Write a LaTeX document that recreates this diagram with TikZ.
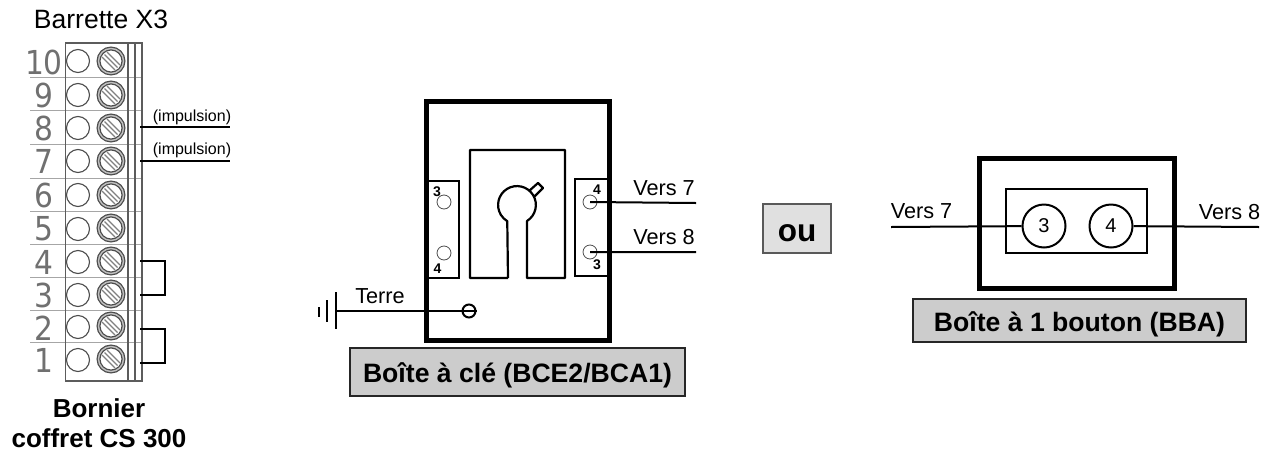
\documentclass[tikz,border=0pt]{standalone}
\usepackage{fontspec}
\setmainfont{Liberation Sans}
\newfontfamily\numfont{DejaVu Sans Condensed}
\usetikzlibrary{positioning}
\definecolor{bargrey}{gray}{0.36}
\definecolor{numgrey}{gray}{0.3}
\tikzset{
	num/.style={font=\fontsize{33}{33}\selectfont\numfont,text=numgrey!80!white,anchor=east,inner sep=0pt},
	hole/.style={circle,draw=numgrey,line width=1.1pt,fill=white,minimum size=23pt,inner sep=0pt},
	screw/.style={circle,draw=numgrey,line width=1.3pt,double=black!25,double distance=1.4pt,minimum size=25pt,inner sep=0pt,
		path picture={
			\draw[black!50,line width=1.1pt]
				([shift={(-9,-4)}]path picture bounding box.center) -- ([shift={(4,9)}]path picture bounding box.center)
				([shift={(-6.5,-6.5)}]path picture bounding box.center) -- ([shift={(6.5,6.5)}]path picture bounding box.center)
				([shift={(-4,-9)}]path picture bounding box.center) -- ([shift={(9,4)}]path picture bounding box.center);
		}},
	tag/.style={font=\fontsize{21.7}{21.7}\selectfont,inner sep=0pt},
	smalltag/.style={font=\fontsize{16}{16}\selectfont,inner sep=0pt},
	pin/.style={font=\fontsize{14}{14}\selectfont\bfseries,inner sep=0pt},
	bold/.style={font=\fontsize{26}{26}\selectfont\bfseries,inner sep=0pt},
	labelbox/.style={draw=black!85,line width=1.8pt,fill=black!20,inner sep=0pt},
	labeltext/.style={font=\fontsize{26.6}{26.6}\selectfont\bfseries,inner sep=0pt},
	thick box/.style={draw,line width=5pt,inner sep=0pt},
	strip/.style={draw,line width=2.2pt,inner sep=0pt},
	port/.style={circle,draw=black!70,line width=0.8pt,minimum size=14pt,inner sep=0pt},
	button/.style={circle,draw,line width=2pt,fill=white,minimum size=43pt,inner sep=0pt,font=\fontsize{20}{20}\selectfont},
	wire/.style={line width=2pt},
	row/.style={line width=1pt,black!35},
	rail/.style={line width=1.5pt,bargrey}
}
\begin{document}
\begin{tikzpicture}[x=1pt,y=-1pt]
		\useasboundingbox (0,0) rectangle (1276,453);
		\node[font=\fontsize{26.5}{26.5}\selectfont,inner sep=0pt] (title) at (101,19) {Barrette X3};
		%Terminal rows
		\coordinate (r1a) at (30,77);   \coordinate (r1b) at (142,77);
		\coordinate (r2a) at (30,110);  \coordinate (r2b) at (142,110);
		\coordinate (r3a) at (30,144);  \coordinate (r3b) at (142,144);
		\coordinate (r4a) at (30,178);  \coordinate (r4b) at (142,178);
		\coordinate (r5a) at (30,211);  \coordinate (r5b) at (142,211);
		\coordinate (r6a) at (30,244);  \coordinate (r6b) at (142,244);
		\coordinate (r7a) at (30,277);  \coordinate (r7b) at (142,277);
		\coordinate (r8a) at (30,310);  \coordinate (r8b) at (142,310);
		\coordinate (r9a) at (30,342);  \coordinate (r9b) at (142,342);
		\draw[row]
			(r1a) -- (r1b)
			(r2a) -- (r2b)
			(r3a) -- (r3b)
			(r4a) -- (r4b)
			(r5a) -- (r5b)
			(r6a) -- (r6b)
			(r7a) -- (r7b)
			(r8a) -- (r8b)
			(r9a) -- (r9b)
		;
		%Terminal frame
		\coordinate (ftl) at (65.5,43);
		\coordinate (fbr) at (142,381);
		\coordinate (m1t) at (128,43);  \coordinate (m1b) at (128,381);
		\coordinate (m2t) at (135,43);  \coordinate (m2b) at (135,381);
		\draw[rail] (ftl) rectangle (fbr);
		\draw[rail]
			(m1t) -- (m1b)
			(m2t) -- (m2b)
		;
		%Numbers
		\node[num] (n10) at (63,62) {10};
		\node[num] (n9) at (54,95) {9};
		\node[num] (n8) at (54,128) {8};
		\node[num] (n7) at (54,161) {7};
		\node[num] (n6) at (54,195) {6};
		\node[num] (n5) at (54,229) {5};
		\node[num] (n4) at (54,262) {4};
		\node[num] (n3) at (54,295) {3};
		\node[num] (n2) at (54,328) {2};
		\node[num] (n1) at (54,360) {1};
		%Holes
		\node[hole] (h10) at (78,61) {};
		\node[hole] (h9) at (78,95) {};
		\node[hole] (h8) at (78,128) {};
		\node[hole] (h7) at (78,161) {};
		\node[hole] (h6) at (78,195) {};
		\node[hole] (h5) at (78,229) {};
		\node[hole] (h4) at (78,262) {};
		\node[hole] (h3) at (78,295) {};
		\node[hole] (h2) at (78,327) {};
		\node[hole] (h1) at (78,360) {};
		%Screws
		\node[screw] (s10) at (111,61) {};
		\node[screw] (s9) at (111,95) {};
		\node[screw] (s8) at (111,128) {};
		\node[screw] (s7) at (111,161) {};
		\node[screw] (s6) at (111,195) {};
		\node[screw] (s5) at (111,228) {};
		\node[screw] (s4) at (111,261) {};
		\node[screw] (s3) at (111,294) {};
		\node[screw] (s2) at (111,326) {};
		\node[screw] (s1) at (111,359) {};
		%Terminal wires
		\coordinate (w8a) at (140,127);  \coordinate (w8b) at (230,127);
		\coordinate (w7a) at (140,161);  \coordinate (w7b) at (230,161);
		\coordinate (j4) at (140,261);   \coordinate (j3) at (140,295);
		\coordinate (j2) at (140,329);   \coordinate (j1) at (140,363);
		\coordinate (k4) at (165,261);   \coordinate (k3) at (165,295);
		\coordinate (k2) at (165,329);   \coordinate (k1) at (165,363);
		\draw[wire]
			(w8a) -- (w8b)
			(w7a) -- (w7b)
			(j4) -- (k4) -- (k3) -- (j3)
			(j2) -- (k2) -- (k1) -- (j1)
		;
		\node[smalltag] (imp8) at (192,117) {(impulsion)};
		\node[smalltag] (imp7) at (192,150) {(impulsion)};
		\node[bold] (born) at (99,408) {Bornier};
		\node[bold] (coff) at (99,438) {coffret CS 300};
		%Key box
		\node[thick box,minimum width=183.5pt,minimum height=239pt] (bce) at (517.75,220.5) {};
		\node[strip,minimum width=31pt,minimum height=97pt] (stl) at (443.5,229.5) {};
		\node[strip,minimum width=33pt,minimum height=97pt] (str) at (591.5,227.5) {};
		\coordinate (kp1) at (508,278);
		\coordinate (kp2) at (470,278);
		\coordinate (kp3) at (470,150);
		\coordinate (kp4) at (565,150);
		\coordinate (kp5) at (565,278);
		\coordinate (kp6) at (527,278);
		\coordinate (kp7) at (527,221);
		\coordinate (kp9) at (529,191);
		\coordinate (kp10) at (538,183);
		\coordinate (kp11) at (543,188);
		\coordinate (kp12) at (534,197);
		\draw[line width=2.2pt,line join=round]
			(kp1) -- (kp2) -- (kp3) -- (kp4) -- (kp5) -- (kp6) -- (kp7)
			arc[start angle=58,end angle=-239,radius=18.9] -- (kp1)
			(kp9) -- (kp10) -- (kp11) -- (kp12)
		;
		\node[port] (pl3) at (444,202) {};
		\node[port] (pl4) at (444,253) {};
		\node[port] (pr4) at (590,202) {};
		\node[port] (pr3) at (590,252) {};
		\node[pin] (t3l) at (437,192) {3};
		\node[pin] (t4l) at (437.5,269) {4};
		\node[pin] (t4r) at (597,190) {4};
		\node[pin] (t3r) at (597,265) {3};
		\coordinate (to7) at (696,203);
		\coordinate (to8) at (696,252);
		\draw[wire]
			(pr4.center) -- (to7)
			(pr3.center) -- (to8)
		;
		\node[tag,anchor=east] (v7) at (695,188) {Vers 7};
		\node[tag,anchor=east] (v8) at (695,237) {Vers 8};
		%Earth
		\node[circle,draw,line width=2pt,minimum size=13pt,inner sep=0pt] (vis) at (469,311) {};
		\coordinate (g1a) at (336,292);  \coordinate (g1b) at (336,329);
		\coordinate (g1c) at (336,311);
		\coordinate (g2a) at (327,300);  \coordinate (g2b) at (327,322);
		\coordinate (g3a) at (319,307);  \coordinate (g3b) at (319,317);
		\draw[wire]
			(g1c) -- (vis.east)
			(g1a) -- (g1b)
			(g2a) -- (g2b)
			(g3a) -- (g3b)
		;
		\node[tag] (terre) at (380,296) {Terre};
		\node[labelbox,minimum width=335pt,minimum height=48pt] (lbce) at (517.5,372) {};
		\node[labeltext] (tbce) at (517.5,375) {Boîte à clé (BCE2/BCA1)};
		%ou
		\node[draw=black!65,line width=1.3pt,fill=black!12,minimum width=68pt,minimum height=49pt,inner sep=0pt] (ou) at (797,228.5) {};
		\node[font=\fontsize{31.5}{31.5}\selectfont\bfseries,inner sep=0pt] (tou) at (797,233) {ou};
		%Button box
		\node[thick box,minimum width=195pt,minimum height=130pt] (bba) at (1077,223.5) {};
		\node[strip,minimum width=141pt,minimum height=64pt] (btn) at (1076.5,221) {};
		\node[button] (b3) at (1044,226) {3};
		\node[button] (b4) at (1111,226) {4};
		\coordinate (in7) at (891,227);
		\coordinate (in8) at (1259,227);
		\draw[wire]
			(in7) -- (b3)
			(b4) -- (in8)
		;
		\node[tag] (b7) at (921.5,211) {Vers 7};
		\node[tag] (b8) at (1229.5,212) {Vers 8};
		\node[labelbox,minimum width=333pt,minimum height=43pt] (lbba) at (1079.5,320.5) {};
		\node[labeltext] (tbba) at (1079.5,324) {Boîte à 1 bouton (BBA)};
	\end{tikzpicture}
\end{document}
